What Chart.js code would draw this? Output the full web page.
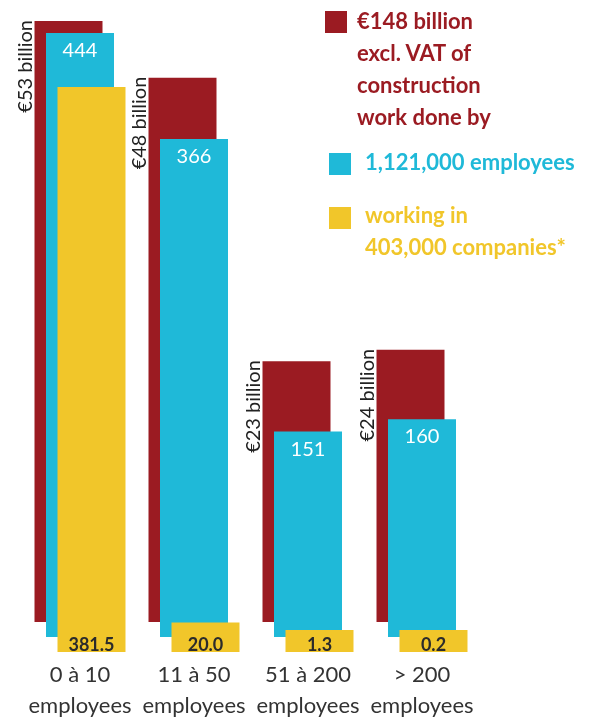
<!DOCTYPE html>
<html>
<head>
<meta charset="utf-8">
<script src="https://cdn.jsdelivr.net/npm/chart.js@4"></script>
<style>
  html, body { margin: 0; padding: 0; background: #fff; }
  #wrap { position: relative; width: 594px; height: 719px; }
  .legend { position: absolute; font: bold 22px Lato, sans-serif; line-height: 32px; white-space: nowrap; }
  .legend .box { position: absolute; width: 22px; height: 22px; }
</style>
</head>
<body>
<div id="wrap">
  <canvas id="chart" width="594" height="719"></canvas>
  <div class="legend" id="legTurnover" style="left:357px; top:5px; color:#9b1b22;"></div>
  <div class="legend" id="legEmployees" style="left:365px; top:146px; color:#1fb9d8;"></div>
  <div class="legend" id="legCompanies" style="left:365px; top:199px; color:#f1c62a;"></div>
</div>
<script>
// categories (company size) and the three series
const categories = [["0 à 10", "employees"], ["11 à 50", "employees"], ["51 à 200", "employees"], ["> 200", "employees"]];
const turnoverBillion = [53, 48, 23, 24];       // € billion excl. VAT
const employeesThousand = [444, 366, 151, 160]; // thousand employees
const companiesThousand = [381.5, 20.0, 1.3, 0.2]; // thousand companies

const legendTurnover = ["€148 billion", "excl. VAT of", "construction", "work done by"];
const legendEmployees = ["1,121,000 employees"];
const legendCompanies = ["working in", "403,000 companies*"];

const RED = "#9b1b22", CYAN = "#1fb9d8", YELLOW = "#f1c62a";

function fillLegend(id, lines, color, boxLeft, boxTop) {
    const el = document.getElementById(id);
    el.innerHTML = lines.map(l => `<div>${l}</div>`).join("");
    const box = document.createElement("div");
    box.className = "box";
    box.style.background = color;
    box.style.left = boxLeft + "px";
    box.style.top = boxTop + "px";
    el.appendChild(box);
}
fillLegend("legTurnover", legendTurnover, RED, -32, 6);
fillLegend("legEmployees", legendEmployees, CYAN, -36, 7);
fillLegend("legCompanies", legendCompanies, YELLOW, -36, 8);

// draw red, then cyan, then yellow on top (Chart.js would draw dataset 0 last)
const drawOrderPlugin = {
    id: "drawOrder",
    beforeDatasetsDraw(chart) {
        [0, 1, 2].forEach(i => chart.getDatasetMeta(i).controller.draw());
        return false;
    }
};

// value labels + category labels
const labelPlugin = {
    id: "barLabels",
    afterDraw(chart) {
        const ctx = chart.ctx;
        ctx.save();

        // rotated € labels beside the red bars
        chart.getDatasetMeta(0).data.forEach((bar, i) => {
            ctx.save();
            ctx.translate(bar.x - bar.width / 2 - 3, bar.y - 1);
            ctx.rotate(-Math.PI / 2);
            ctx.font = "20px Lato, sans-serif";
            ctx.fillStyle = "#222";
            ctx.textAlign = "right";
            ctx.textBaseline = "alphabetic";
            ctx.fillText(`€${turnoverBillion[i]} billion`, 0, 0);
            ctx.restore();
        });

        // employees inside cyan bars
        ctx.font = "20px Lato, sans-serif";
        ctx.fillStyle = "#fff";
        ctx.textAlign = "center";
        ctx.textBaseline = "alphabetic";
        chart.getDatasetMeta(1).data.forEach((bar, i) => {
            ctx.fillText(String(employeesThousand[i]), bar.x, bar.y + 24);
        });

        // companies at the bottom of yellow bars
        ctx.font = "bold 18px Lato, sans-serif";
        ctx.fillStyle = "#2b2b2b";
        chart.getDatasetMeta(2).data.forEach((bar, i) => {
            ctx.fillText(companiesThousand[i].toFixed(1), bar.x, bar.base - 1);
        });

        // category labels
        const xs = chart.scales.x;
        ctx.font = "22px Lato, sans-serif";
        ctx.fillStyle = "#333";
        categories.forEach((lines, i) => {
            const x = xs.getPixelForValue(i);
            lines.forEach((line, j) => {
                ctx.fillText(line, x, chart.chartArea.bottom + 30 + j * 31);
            });
        });
        ctx.restore();
    }
};

const ctx = document.getElementById("chart").getContext("2d");
const myChart = new Chart(ctx, {
    type: "bar",
    data: {
        labels: categories.map(c => c.join(" ")),
        datasets: [
            { data: turnoverBillion, backgroundColor: RED, yAxisID: "yRed" },
            { data: employeesThousand, backgroundColor: CYAN, yAxisID: "yCyan" },
            { data: companiesThousand, backgroundColor: YELLOW, yAxisID: "yYellow", minBarLength: 22 }
        ]
    },
    options: {
        responsive: false,
        animation: false,
        datasets: {
            bar: {
                categoryPercentage: 0.3026,
                barPercentage: 5.913,
                borderWidth: 0
            }
        },
        layout: { padding: { top: 20, bottom: 67, left: 23, right: 115 } },
        plugins: {
            legend: { display: false },
            tooltip: { enabled: false }
        },
        scales: {
            x: { display: false },
            yRed: { display: false, min: -2.65, max: 53.09 },
            yCyan: { display: false, min: -11.03, max: 453.56 },
            yYellow: { display: false, min: 0, max: 426.7 }
        }
    },
    plugins: [drawOrderPlugin, labelPlugin]
});
</script>
</body>
</html>
